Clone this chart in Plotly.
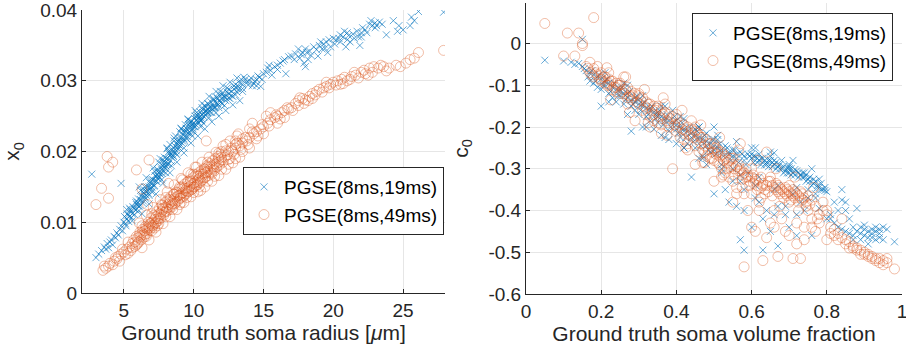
import plotly.graph_objects as go

# ---- Left panel: x0 vs ground-truth soma radius (um) ----
radius_x0_19ms = [
    (3.0,0.0050),(3.2,0.0055),(3.4,0.0060),(3.6,0.0065),(3.7,0.0062),(3.8,0.0070),(3.9,0.0064),(4.0,0.0072),
    (4.1,0.0075),(4.2,0.0068),(4.3,0.0080),(4.4,0.0078),(4.5,0.0085),(4.6,0.0082),(4.7,0.0090),(4.8,0.0095),
    (4.9,0.0088),(5.0,0.0100),(5.1,0.0098),(5.2,0.0105),(5.3,0.0110),(5.4,0.0108),(5.5,0.0115),(5.6,0.0112),
    (5.7,0.0120),(5.8,0.0118),(5.9,0.0125),(6.0,0.0128),(6.1,0.0122),(6.2,0.0132),(6.3,0.0135),(6.4,0.0130),
    (6.5,0.0140),(6.6,0.0138),(6.7,0.0145),(6.8,0.0150),(6.9,0.0147),(7.0,0.0155),(7.1,0.0160),(7.2,0.0152),
    (7.3,0.0165),(7.4,0.0162),(7.5,0.0170),(7.6,0.0168),(7.7,0.0175),(7.8,0.0180),(7.9,0.0178),(8.0,0.0185),
    (8.1,0.0190),(8.2,0.0183),(8.3,0.0195),(8.4,0.0192),(8.5,0.0200),(8.6,0.0205),(8.7,0.0198),(8.8,0.0210),
    (8.9,0.0215),(9.0,0.0208),(9.1,0.0220),(9.2,0.0225),(9.3,0.0218),(9.4,0.0228),(9.5,0.0232),(9.6,0.0226),
    (9.7,0.0235),(9.8,0.0230),(9.9,0.0238),(10.0,0.0240),(10.1,0.0235),(10.2,0.0245),(10.3,0.0242),(10.4,0.0248),
    (10.5,0.0250),(10.6,0.0246),(10.7,0.0255),(10.8,0.0252),(10.9,0.0258),(11.0,0.0260),(11.2,0.0262),(11.4,0.0265),
    (11.5,0.0270),(11.7,0.0268),(11.8,0.0272),(12.0,0.0275),(12.2,0.0278),(12.3,0.0272),(12.5,0.0282),(12.7,0.0285),
    (12.9,0.0288),(13.0,0.0290),(13.2,0.0292),(13.5,0.0295),(13.8,0.0298),(14.0,0.0300),(14.3,0.0296),(14.5,0.0293),
    (14.7,0.0305),(15.0,0.0310),(15.3,0.0318),(15.6,0.0308),(15.8,0.0320),(16.2,0.0325),(16.5,0.0330),(16.6,0.0310),
    (17.0,0.0335),(17.3,0.0338),(17.6,0.0332),(17.8,0.0340),(17.9,0.0325),(18.0,0.0345),(18.3,0.0342),(18.6,0.0348),
    (18.9,0.0335),(19.0,0.0350),(19.3,0.0352),(19.5,0.0355),(19.8,0.0348),(20.0,0.0360),(20.2,0.0358),(20.5,0.0365),
    (20.7,0.0362),(21.0,0.0368),(21.2,0.0355),(21.5,0.0360),(21.7,0.0370),(22.0,0.0368),(22.3,0.0372),(22.6,0.0380),
    (22.8,0.0378),(23.0,0.0375),(23.5,0.0380),(23.8,0.0365),(24.3,0.0385),(24.6,0.0370),(25.0,0.0372),(25.5,0.0378),
    (25.8,0.0385),(26.1,0.0398),(27.9,0.0397),
    (6.2,0.0145),(6.8,0.0138),(7.2,0.0172),(7.7,0.0160),(8.1,0.0205),(8.4,0.0180),(8.8,0.0195),(9.0,0.0228),
    (9.3,0.0205),(9.6,0.0245),(9.9,0.0222),(10.2,0.0255),(10.5,0.0235),(10.8,0.0265),(11.1,0.0248),(11.4,0.0275),
    (11.6,0.0255),(11.9,0.0285),(12.2,0.0265),(12.6,0.0275),(13.0,0.0280),(13.4,0.0302),(14.2,0.0293),(14.8,0.0292),
    (2.7,0.0168),(4.8,0.0155),(7.8,0.0188),(5.2,0.0118),(5.6,0.0102),(6.0,0.0115),(6.5,0.0150),(7.0,0.0143),
    (7.5,0.0185),(8.0,0.0170),(8.6,0.0215),(9.4,0.0238),(10.0,0.0228),(10.6,0.0262),(11.3,0.0255),(12.0,0.0268),
    (12.4,0.0290),(13.6,0.0305),(14.5,0.0302),(15.5,0.0315),(16.0,0.0322),(17.5,0.0345),(18.2,0.0330),(19.2,0.0345),
    (20.5,0.0355),(21.0,0.0358),(22.0,0.0362),(23.0,0.0382),(24.7,0.0378),(25.6,0.0390),
    (8.3,0.0210),(8.7,0.0222),(9.1,0.0232),(9.5,0.0218),(9.8,0.0242),(10.3,0.0250),(10.7,0.0240),(11.0,0.0268),
    (11.8,0.0262),(12.8,0.0278),(7.4,0.0175),(7.9,0.0192),(6.9,0.0160),(6.4,0.0142),(5.9,0.0130),(5.4,0.0120),
]
radius_x0_19ms_dense = [
    (5.05,0.0108),(5.15,0.0095),(5.25,0.0112),(5.35,0.0101),(5.45,0.0118),(5.55,0.0107),(5.65,0.0122),(5.75,0.0111),
    (5.85,0.0128),(5.95,0.0119),(6.05,0.0133),(6.15,0.0124),(6.25,0.0138),(6.35,0.0127),(6.45,0.0146),(6.55,0.0134),
    (6.65,0.0150),(6.75,0.0141),(6.85,0.0156),(6.95,0.0149),(7.05,0.0160),(7.15,0.0151),(7.25,0.0166),(7.35,0.0158),
    (7.45,0.0173),(7.55,0.0163),(7.65,0.0178),(7.75,0.0169),(7.85,0.0185),(7.95,0.0176),(8.05,0.0190),(8.15,0.0181),
    (8.25,0.0197),(8.35,0.0187),(8.45,0.0203),(8.55,0.0193),(8.65,0.0208),(8.75,0.0201),(8.85,0.0214),(8.95,0.0205),
    (9.05,0.0219),(9.15,0.0212),(9.25,0.0229),(9.35,0.0215),(9.45,0.0233),(9.55,0.0221),(9.65,0.0238),(9.75,0.0226),
    (9.85,0.0243),(9.95,0.0232),(10.05,0.0247),(10.15,0.0238),(10.25,0.0251),(10.35,0.0240),(10.45,0.0256),(10.55,0.0244),
    (10.65,0.0259),(10.75,0.0249),(10.85,0.0263),(10.95,0.0254),(11.05,0.0267),(11.15,0.0256),(11.25,0.0270),(11.35,0.0260),
    (11.45,0.0273),(11.55,0.0263),(11.65,0.0277),(11.75,0.0266),(11.85,0.0280),(11.95,0.0270),(12.1,0.0283),(12.3,0.0276),
    (12.5,0.0288),(12.7,0.0279),(12.9,0.0293),(13.1,0.0284),(13.3,0.0297),(13.5,0.0289),(13.7,0.0302),(13.9,0.0294),
    (14.1,0.0304),(14.4,0.0299),(14.6,0.0307),(14.9,0.0302),(15.2,0.0312),(15.4,0.0322),(16.0,0.0316),(16.4,0.0328),
    (16.8,0.0334),(17.2,0.0330),(17.7,0.0337),(18.1,0.0340),(18.4,0.0336),(18.8,0.0344),(19.1,0.0355),(19.4,0.0346),
    (19.7,0.0358),(20.1,0.0352),(20.4,0.0360),(20.8,0.0370),(21.1,0.0364),(21.4,0.0366),(21.8,0.0362),(22.1,0.0375),
    (22.4,0.0368),(22.7,0.0385),(23.1,0.0378),(23.3,0.0383),(20.9,0.0348),(21.9,0.0350),(18.0,0.0320),(19.6,0.0340),
    (6.0,0.0124),(6.5,0.0136),(7.0,0.0150),(7.5,0.0165),(8.0,0.0180),(8.5,0.0195),(9.0,0.0215),(9.5,0.0228),
    (10.0,0.0236),(10.5,0.0244),(11.0,0.0255),(11.5,0.0262),(12.0,0.0280),(12.5,0.0276),(13.0,0.0295),(13.5,0.0285),
    (8.2,0.0200),(8.8,0.0205),(9.2,0.0215),(9.7,0.0240),(10.1,0.0250),(10.6,0.0252),(11.1,0.0262),(11.7,0.0275),
    (12.4,0.0284),(13.2,0.0288),(7.3,0.0158),(7.8,0.0172),(6.6,0.0144),
]
radius_x0_19ms_edges = [
    (6.1,0.0150),(6.6,0.0163),(7.1,0.0177),(7.6,0.0190),(8.1,0.0204),(8.6,0.0219),(9.1,0.0233),(9.6,0.0246),
    (10.1,0.0258),(10.6,0.0268),(11.1,0.0278),(11.6,0.0285),(12.1,0.0293),(12.6,0.0298),(13.1,0.0304),
    (6.3,0.0112),(6.8,0.0126),(7.3,0.0140),(7.8,0.0155),(8.3,0.0170),(8.8,0.0185),(9.3,0.0198),(9.8,0.0212),
    (10.3,0.0222),(10.8,0.0232),(11.3,0.0242),(11.8,0.0250),(12.3,0.0258),(12.8,0.0266),(13.3,0.0272),
    (8.4,0.0196),(9.4,0.0222),(10.4,0.0245),(11.4,0.0263),(9.9,0.0236),(8.9,0.0210),(10.9,0.0257),(12.2,0.0277),
    (7.9,0.0181),(7.4,0.0167),
]

radius_x0_49ms = [
    (3.5,0.0032),(3.7,0.0035),(3.9,0.0038),(4.0,0.0042),(4.2,0.0040),(4.3,0.0045),(4.5,0.0048),(4.6,0.0052),
    (4.8,0.0055),(5.0,0.0058),(5.1,0.0054),(5.2,0.0062),(5.4,0.0065),(5.5,0.0060),(5.6,0.0070),(5.8,0.0072),
    (5.9,0.0068),(6.0,0.0078),(6.1,0.0082),(6.2,0.0080),(6.3,0.0085),(6.4,0.0083),(6.5,0.0088),(6.6,0.0092),
    (6.7,0.0090),(6.8,0.0095),(6.9,0.0098),(7.0,0.0100),(7.1,0.0096),(7.2,0.0104),(7.3,0.0108),(7.4,0.0105),
    (7.5,0.0112),(7.6,0.0110),(7.7,0.0115),(7.8,0.0118),(7.9,0.0114),(8.0,0.0122),(8.1,0.0120),(8.2,0.0125),
    (8.3,0.0128),(8.4,0.0124),(8.5,0.0130),(8.6,0.0133),(8.7,0.0128),(8.8,0.0136),(8.9,0.0138),(9.0,0.0134),
    (9.1,0.0140),(9.2,0.0142),(9.3,0.0138),(9.4,0.0145),(9.5,0.0148),(9.6,0.0143),(9.7,0.0150),(9.8,0.0152),
    (9.9,0.0147),(10.0,0.0155),(10.1,0.0157),(10.2,0.0152),(10.3,0.0160),(10.4,0.0162),(10.5,0.0158),(10.6,0.0165),
    (10.7,0.0168),(10.8,0.0163),(10.9,0.0170),(11.0,0.0172),(11.2,0.0175),(11.4,0.0178),(11.5,0.0173),(11.6,0.0182),
    (11.8,0.0185),(12.0,0.0188),(12.2,0.0192),(12.4,0.0195),(12.6,0.0190),(12.8,0.0200),(13.0,0.0205),(13.3,0.0208),
    (13.5,0.0212),(13.8,0.0215),(14.0,0.0220),(14.3,0.0225),(14.5,0.0228),(14.8,0.0232),(15.0,0.0235),(15.3,0.0240),
    (15.5,0.0245),(15.8,0.0248),(16.0,0.0250),(16.3,0.0255),(16.5,0.0258),(16.8,0.0260),(17.0,0.0262),(17.3,0.0268),
    (17.5,0.0272),(17.8,0.0275),(18.0,0.0273),(18.3,0.0278),(18.5,0.0282),(18.8,0.0285),(19.0,0.0288),(19.3,0.0290),
    (19.5,0.0292),(19.8,0.0295),(20.0,0.0298),(20.3,0.0300),(20.6,0.0302),(20.8,0.0305),(21.0,0.0300),(21.3,0.0306),
    (21.6,0.0308),(22.0,0.0312),(22.3,0.0310),(22.6,0.0318),(22.9,0.0320),(23.2,0.0318),(23.6,0.0320),(23.8,0.0314),
    (24.5,0.0322),(24.8,0.0320),(25.2,0.0325),(25.5,0.0330),(25.8,0.0332),(26.1,0.0340),(27.9,0.0343),
    (3.0,0.0125),(3.4,0.0148),(3.8,0.0193),(3.9,0.0178),(4.2,0.0185),(3.9,0.0134),(5.9,0.0174),(6.7,0.0125),
    (10.9,0.0215),(6.8,0.0188),(6.3,0.0147),
    (7.0,0.0112),(7.5,0.0098),(8.0,0.0135),(8.5,0.0118),(9.0,0.0150),(9.5,0.0135),(10.0,0.0168),(10.5,0.0145),
    (11.0,0.0185),(11.5,0.0165),(12.0,0.0200),(12.5,0.0182),(13.0,0.0215),(13.5,0.0200),(14.0,0.0232),(14.5,0.0218),
    (15.5,0.0255),(16.5,0.0248),(17.5,0.0265),(18.5,0.0275),(19.5,0.0298),(20.5,0.0295),(21.5,0.0312),(22.5,0.0308),
    (8.2,0.0155),(9.2,0.0160),(10.2,0.0178),(9.8,0.0168),(11.8,0.0198),(6.3,0.0095),(5.3,0.0072),(4.7,0.0045),
    (12.3,0.0210),(13.2,0.0225),(14.2,0.0240),(15.2,0.0250),
    (8.6,0.0140),(9.1,0.0128),(9.6,0.0158),(10.4,0.0150),(10.8,0.0175),(11.3,0.0168),(7.7,0.0125),(7.2,0.0092),
]
radius_x0_49ms_dense = [
    (5.6,0.0064),(5.7,0.0075),(5.8,0.0066),(5.9,0.0080),(6.05,0.0072),(6.15,0.0086),(6.25,0.0075),(6.35,0.0090),
    (6.45,0.0079),(6.55,0.0094),(6.65,0.0084),(6.75,0.0100),(6.85,0.0089),(6.95,0.0106),(7.05,0.0093),(7.15,0.0110),
    (7.25,0.0098),(7.35,0.0115),(7.45,0.0102),(7.55,0.0120),(7.65,0.0106),(7.75,0.0124),(7.85,0.0110),(7.95,0.0128),
    (8.05,0.0115),(8.15,0.0132),(8.25,0.0118),(8.35,0.0136),(8.45,0.0122),(8.55,0.0140),(8.65,0.0126),(8.75,0.0143),
    (8.85,0.0130),(8.95,0.0147),(9.05,0.0134),(9.15,0.0150),(9.25,0.0136),(9.35,0.0154),(9.45,0.0140),(9.55,0.0157),
    (9.65,0.0144),(9.75,0.0160),(9.85,0.0146),(9.95,0.0163),(10.05,0.0150),(10.15,0.0167),(10.25,0.0153),(10.35,0.0170),
    (10.45,0.0156),(10.55,0.0173),(10.65,0.0160),(10.75,0.0176),(10.85,0.0164),(10.95,0.0180),(11.05,0.0166),(11.15,0.0183),
    (11.25,0.0170),(11.35,0.0187),(11.45,0.0175),(11.55,0.0190),(11.65,0.0178),(11.75,0.0193),(11.85,0.0181),(11.95,0.0196),
    (12.1,0.0185),(12.3,0.0201),(12.5,0.0189),(12.7,0.0205),(12.9,0.0196),(13.1,0.0212),(13.4,0.0203),(13.7,0.0220),
    (13.9,0.0210),(14.2,0.0228),(14.6,0.0222),(14.9,0.0238),(15.4,0.0236),(15.9,0.0252),(16.2,0.0246),(16.7,0.0262),
    (17.1,0.0258),(17.6,0.0276),(17.9,0.0268),(18.2,0.0272),(18.7,0.0280),(19.2,0.0284),(19.7,0.0290),(20.2,0.0294),
    (20.7,0.0296),(21.2,0.0302),(21.8,0.0304),(22.2,0.0315),(22.8,0.0312),(23.4,0.0322),(24.0,0.0318),(13.0,0.0190),
    (12.0,0.0175),(11.0,0.0158),(10.0,0.0142),(9.0,0.0125),(8.0,0.0108),(7.0,0.0088),(14.0,0.0205),(15.0,0.0225),
    (16.0,0.0240),(4.9,0.0062),(5.3,0.0056),(4.4,0.0050),(3.6,0.0038),(6.6,0.0080),(7.4,0.0095),
    (6.0,0.0070),(6.5,0.0082),(7.0,0.0095),(7.5,0.0105),(8.0,0.0116),(8.5,0.0126),(9.0,0.0138),(9.5,0.0144),
    (10.0,0.0150),(10.5,0.0168),(11.0,0.0178),(11.5,0.0183),(12.0,0.0192),(12.5,0.0200),(13.0,0.0210),(13.5,0.0218),
    (8.3,0.0132),(8.8,0.0142),(9.3,0.0148),(9.8,0.0158),(10.3,0.0165),(10.8,0.0170),(11.3,0.0180),(11.8,0.0190),
    (7.3,0.0100),(7.8,0.0120),(6.8,0.0092),
]
radius_x0_49ms_edges = [
    (6.1,0.0099),(6.6,0.0110),(7.1,0.0121),(7.6,0.0132),(8.1,0.0143),(8.6,0.0153),(9.1,0.0162),(9.6,0.0170),
    (10.1,0.0178),(10.6,0.0185),(11.1,0.0192),(11.6,0.0199),(12.1,0.0208),(12.6,0.0215),(13.1,0.0222),
    (6.3,0.0064),(6.8,0.0075),(7.3,0.0086),(7.8,0.0098),(8.3,0.0108),(8.8,0.0118),(9.3,0.0128),(9.8,0.0136),
    (10.3,0.0143),(10.8,0.0150),(11.3,0.0158),(11.8,0.0166),(12.3,0.0175),(12.8,0.0184),(13.3,0.0192),
]

# ---- Right panel: c0 vs ground-truth soma volume fraction ----
fraction_c0_19ms = [
    (0.05,-0.040),(0.10,-0.042),(0.12,-0.045),(0.13,-0.050),(0.14,-0.048),(0.15,0.010),(0.15,-0.055),(0.16,-0.065),
    (0.17,-0.070),(0.17,-0.090),(0.18,-0.075),(0.18,-0.095),(0.19,-0.080),(0.19,-0.105),(0.20,-0.085),(0.20,-0.110),
    (0.20,-0.150),(0.21,-0.090),(0.21,-0.100),(0.22,-0.095),(0.22,-0.120),(0.23,-0.105),(0.23,-0.130),(0.24,-0.110),
    (0.24,-0.140),(0.25,-0.115),(0.25,-0.125),(0.26,-0.120),(0.26,-0.145),(0.27,-0.130),(0.27,-0.100),(0.28,-0.135),
    (0.28,-0.210),(0.28,-0.150),(0.29,-0.140),(0.29,-0.160),(0.30,-0.145),(0.30,-0.170),(0.31,-0.150),(0.31,-0.200),
    (0.32,-0.155),(0.32,-0.175),(0.33,-0.160),(0.33,-0.185),(0.34,-0.165),(0.34,-0.205),(0.35,-0.170),(0.35,-0.190),
    (0.36,-0.175),(0.36,-0.220),(0.37,-0.180),(0.37,-0.150),(0.38,-0.185),(0.38,-0.210),(0.39,-0.190),(0.39,-0.160),
    (0.40,-0.195),(0.40,-0.240),(0.41,-0.200),(0.41,-0.225),(0.42,-0.205),(0.42,-0.180),(0.43,-0.210),(0.43,-0.240),
    (0.44,-0.215),(0.44,-0.320),(0.45,-0.220),(0.45,-0.250),(0.46,-0.225),(0.46,-0.200),(0.47,-0.230),(0.47,-0.270),
    (0.48,-0.235),(0.48,-0.215),(0.49,-0.240),(0.49,-0.260),(0.50,-0.200),(0.50,-0.245),(0.50,-0.360),(0.51,-0.250),
    (0.51,-0.230),(0.52,-0.255),(0.52,-0.290),(0.53,-0.245),(0.53,-0.350),(0.54,-0.260),(0.54,-0.380),(0.55,-0.255),
    (0.55,-0.300),(0.56,-0.265),(0.56,-0.390),(0.57,-0.260),(0.57,-0.470),(0.57,-0.330),(0.58,-0.270),(0.58,-0.495),
    (0.58,-0.400),(0.59,-0.265),(0.59,-0.310),(0.60,-0.275),(0.60,-0.250),(0.60,-0.440),(0.61,-0.270),(0.61,-0.340),
    (0.62,-0.280),(0.62,-0.380),(0.63,-0.275),(0.63,-0.495),(0.63,-0.420),(0.64,-0.285),(0.64,-0.290),(0.65,-0.280),
    (0.65,-0.260),(0.65,-0.450),(0.66,-0.290),(0.66,-0.350),(0.67,-0.295),(0.67,-0.485),(0.67,-0.390),(0.68,-0.300),
    (0.68,-0.280),(0.69,-0.305),(0.69,-0.410),(0.70,-0.300),(0.70,-0.310),(0.70,-0.440),(0.71,-0.310),(0.71,-0.360),
    (0.72,-0.305),(0.72,-0.460),(0.73,-0.315),(0.73,-0.380),(0.74,-0.320),(0.74,-0.400),(0.75,-0.325),(0.75,-0.350),
    (0.76,-0.340),(0.76,-0.460),(0.77,-0.330),(0.77,-0.370),(0.78,-0.345),(0.78,-0.325),(0.79,-0.350),(0.80,-0.355),
    (0.80,-0.420),(0.81,-0.410),(0.82,-0.430),(0.82,-0.380),(0.83,-0.440),(0.83,-0.400),(0.84,-0.445),(0.84,-0.350),
    (0.85,-0.450),(0.85,-0.380),(0.86,-0.455),(0.86,-0.420),(0.87,-0.460),(0.87,-0.470),(0.88,-0.395),(0.88,-0.450),
    (0.89,-0.440),(0.89,-0.470),(0.90,-0.435),(0.90,-0.460),(0.91,-0.450),(0.91,-0.480),(0.92,-0.445),(0.92,-0.465),
    (0.93,-0.440),(0.93,-0.470),(0.94,-0.445),(0.94,-0.455),(0.95,-0.440),(0.95,-0.470),(0.96,-0.445),(0.98,-0.475),
]
fraction_c0_19ms_dense = [
    (0.155,-0.060),(0.165,-0.080),(0.175,-0.065),(0.185,-0.090),(0.195,-0.075),(0.205,-0.100),(0.215,-0.085),(0.225,-0.115),
    (0.235,-0.095),(0.245,-0.125),(0.255,-0.105),(0.265,-0.135),(0.275,-0.115),(0.285,-0.145),(0.295,-0.125),(0.305,-0.160),
    (0.315,-0.140),(0.325,-0.170),(0.335,-0.150),(0.345,-0.180),(0.355,-0.160),(0.365,-0.195),(0.375,-0.170),(0.385,-0.200),
    (0.395,-0.175),(0.405,-0.215),(0.415,-0.190),(0.425,-0.225),(0.435,-0.200),(0.445,-0.235),(0.455,-0.210),(0.465,-0.245),
    (0.475,-0.220),(0.485,-0.255),(0.495,-0.230),(0.505,-0.265),(0.515,-0.240),(0.525,-0.270),(0.535,-0.250),(0.545,-0.280),
    (0.555,-0.255),(0.565,-0.285),(0.575,-0.265),(0.585,-0.290),(0.595,-0.270),(0.605,-0.285),(0.615,-0.275),(0.625,-0.290),
    (0.635,-0.280),(0.645,-0.295),(0.655,-0.285),(0.665,-0.300),(0.675,-0.290),(0.685,-0.310),(0.695,-0.298),(0.705,-0.315),
    (0.715,-0.302),(0.725,-0.320),(0.735,-0.310),(0.745,-0.330),(0.755,-0.320),(0.765,-0.335),(0.775,-0.345),(0.785,-0.350),
    (0.795,-0.352),(0.30,-0.135),(0.35,-0.165),(0.40,-0.185),(0.45,-0.205),(0.50,-0.230),(0.55,-0.270),(0.60,-0.265),
    (0.65,-0.270),(0.70,-0.290),(0.38,-0.230),(0.42,-0.250),(0.46,-0.275),(0.48,-0.290),(0.52,-0.310),(0.55,-0.330),
    (0.58,-0.350),(0.61,-0.370),(0.64,-0.400),(0.66,-0.410),(0.69,-0.390),(0.72,-0.410),(0.75,-0.370),(0.78,-0.395),
    (0.81,-0.420),(0.87,-0.440),(0.90,-0.445),(0.92,-0.455),(0.94,-0.465),(0.89,-0.455),(0.91,-0.465),(0.93,-0.450),
    (0.85,-0.400),(0.84,-0.375),
    (0.605,-0.270),(0.615,-0.285),(0.625,-0.275),(0.635,-0.290),(0.645,-0.280),(0.655,-0.295),(0.665,-0.285),(0.675,-0.300),
    (0.685,-0.295),(0.695,-0.310),(0.705,-0.300),(0.715,-0.315),(0.725,-0.310),(0.735,-0.320),(0.745,-0.315),(0.755,-0.330),
    (0.765,-0.325),(0.775,-0.340),(0.785,-0.335),(0.795,-0.345),(0.62,-0.265),(0.66,-0.280),(0.70,-0.295),(0.74,-0.310),
    (0.40,-0.205),(0.42,-0.210),(0.44,-0.225),(0.46,-0.230),(0.48,-0.245),(0.50,-0.255),(0.52,-0.260),(0.54,-0.265),
    (0.56,-0.275),(0.58,-0.280),(0.25,-0.110),(0.27,-0.120),(0.29,-0.130),(0.31,-0.145),(0.33,-0.155),(0.35,-0.175),
    (0.37,-0.185),
]
fraction_c0_19ms_edges = [
    (0.21,-0.070),(0.26,-0.095),(0.31,-0.125),(0.36,-0.150),(0.41,-0.175),(0.46,-0.200),(0.51,-0.220),(0.56,-0.235),
    (0.61,-0.250),(0.66,-0.262),(0.71,-0.280),(0.76,-0.300),
    (0.22,-0.140),(0.27,-0.170),(0.32,-0.200),(0.37,-0.225),(0.42,-0.250),(0.47,-0.275),(0.52,-0.300),(0.57,-0.315),
    (0.62,-0.320),(0.67,-0.340),(0.72,-0.345),(0.77,-0.360),
]

fraction_c0_49ms = [
    (0.05,0.048),(0.10,-0.030),(0.11,0.025),(0.13,-0.030),(0.14,0.025),(0.15,-0.005),(0.15,0.000),(0.18,0.062),
    (0.16,-0.055),(0.17,-0.045),(0.17,-0.070),(0.18,-0.060),(0.18,-0.080),(0.19,-0.055),(0.19,-0.075),(0.20,-0.070),
    (0.20,-0.090),(0.21,-0.080),(0.21,-0.095),(0.22,-0.085),(0.22,-0.100),(0.23,-0.090),(0.23,-0.110),(0.24,-0.095),
    (0.24,-0.115),(0.25,-0.100),(0.25,-0.120),(0.26,-0.080),(0.26,-0.110),(0.27,-0.105),(0.27,-0.130),(0.28,-0.115),
    (0.28,-0.135),(0.29,-0.120),(0.29,-0.185),(0.30,-0.125),(0.30,-0.145),(0.31,-0.130),(0.31,-0.160),(0.32,-0.140),
    (0.32,-0.170),(0.33,-0.145),(0.33,-0.175),(0.34,-0.150),(0.34,-0.185),(0.35,-0.155),(0.35,-0.190),(0.36,-0.160),
    (0.36,-0.195),(0.37,-0.165),(0.37,-0.145),(0.38,-0.170),(0.38,-0.200),(0.39,-0.175),(0.39,-0.300),(0.40,-0.180),
    (0.40,-0.210),(0.41,-0.190),(0.41,-0.225),(0.42,-0.195),(0.42,-0.230),(0.43,-0.200),(0.43,-0.240),(0.44,-0.205),
    (0.44,-0.185),(0.45,-0.210),(0.45,-0.245),(0.46,-0.220),(0.46,-0.260),(0.47,-0.225),(0.47,-0.255),(0.48,-0.230),
    (0.48,-0.270),(0.49,-0.240),(0.49,-0.275),(0.50,-0.250),(0.50,-0.280),(0.51,-0.255),(0.51,-0.285),(0.52,-0.260),
    (0.52,-0.300),(0.53,-0.270),(0.53,-0.310),(0.54,-0.280),(0.54,-0.320),(0.55,-0.290),(0.55,-0.330),(0.56,-0.295),
    (0.56,-0.345),(0.57,-0.240),(0.57,-0.300),(0.58,-0.310),(0.58,-0.535),(0.58,-0.360),(0.59,-0.315),(0.59,-0.400),
    (0.60,-0.320),(0.60,-0.360),(0.61,-0.330),(0.61,-0.450),(0.62,-0.325),(0.62,-0.380),(0.63,-0.335),(0.63,-0.520),
    (0.64,-0.340),(0.64,-0.260),(0.65,-0.330),(0.65,-0.430),(0.66,-0.345),(0.66,-0.400),(0.67,-0.340),(0.67,-0.510),
    (0.68,-0.350),(0.68,-0.420),(0.69,-0.345),(0.69,-0.450),(0.70,-0.355),(0.70,-0.380),(0.71,-0.350),(0.71,-0.515),
    (0.72,-0.360),(0.72,-0.430),(0.73,-0.355),(0.73,-0.515),(0.74,-0.370),(0.74,-0.440),(0.75,-0.365),(0.75,-0.400),
    (0.76,-0.375),(0.76,-0.420),(0.77,-0.390),(0.78,-0.430),(0.79,-0.400),(0.79,-0.380),(0.80,-0.470),(0.80,-0.410),
    (0.81,-0.440),(0.82,-0.445),(0.82,-0.460),(0.83,-0.455),(0.84,-0.465),(0.84,-0.420),(0.85,-0.470),(0.86,-0.475),
    (0.86,-0.490),(0.87,-0.485),(0.88,-0.490),(0.89,-0.495),(0.89,-0.505),(0.90,-0.500),(0.91,-0.505),(0.91,-0.510),
    (0.92,-0.510),(0.93,-0.515),(0.93,-0.520),(0.94,-0.515),(0.95,-0.520),(0.95,-0.530),(0.96,-0.525),(0.98,-0.540),
]
fraction_c0_49ms_dense = [
    (0.165,-0.060),(0.175,-0.075),(0.185,-0.070),(0.195,-0.085),(0.205,-0.080),(0.215,-0.100),(0.225,-0.090),(0.235,-0.105),
    (0.245,-0.100),(0.255,-0.115),(0.265,-0.110),(0.275,-0.125),(0.285,-0.125),(0.295,-0.140),(0.305,-0.135),(0.315,-0.150),
    (0.325,-0.145),(0.335,-0.160),(0.345,-0.160),(0.355,-0.175),(0.365,-0.170),(0.375,-0.185),(0.385,-0.180),(0.395,-0.195),
    (0.405,-0.195),(0.415,-0.205),(0.425,-0.210),(0.435,-0.220),(0.445,-0.225),(0.455,-0.230),(0.465,-0.240),(0.475,-0.245),
    (0.485,-0.255),(0.495,-0.260),(0.505,-0.265),(0.515,-0.270),(0.525,-0.280),(0.535,-0.285),(0.545,-0.295),(0.555,-0.300),
    (0.565,-0.305),(0.575,-0.315),(0.585,-0.320),(0.595,-0.330),(0.605,-0.335),(0.615,-0.340),(0.625,-0.345),(0.635,-0.350),
    (0.645,-0.355),(0.655,-0.340),(0.665,-0.350),(0.675,-0.360),(0.685,-0.355),(0.695,-0.365),(0.705,-0.360),(0.715,-0.370),
    (0.725,-0.365),(0.735,-0.375),(0.745,-0.380),(0.755,-0.385),(0.30,-0.120),(0.35,-0.150),(0.40,-0.170),(0.45,-0.200),
    (0.50,-0.240),(0.55,-0.275),(0.60,-0.300),(0.65,-0.320),(0.70,-0.340),(0.33,-0.200),(0.36,-0.215),(0.43,-0.255),
    (0.47,-0.285),(0.52,-0.320),(0.56,-0.360),(0.62,-0.400),(0.66,-0.440),(0.70,-0.460),(0.74,-0.470),(0.77,-0.450),
    (0.80,-0.400),(0.78,-0.410),(0.83,-0.470),(0.85,-0.480),(0.87,-0.490),(0.90,-0.505),(0.92,-0.515),(0.94,-0.525),
    (0.96,-0.515),(0.88,-0.495),(0.81,-0.455),(0.76,-0.440),(0.72,-0.480),(0.64,-0.465),(0.60,-0.440),(0.55,-0.380),
    (0.50,-0.330),(0.45,-0.290),(0.25,-0.095),(0.27,-0.145),(0.22,-0.070),
    (0.455,-0.215),(0.465,-0.225),(0.475,-0.260),(0.485,-0.240),(0.495,-0.275),(0.505,-0.250),(0.515,-0.290),(0.525,-0.265),
    (0.535,-0.300),(0.545,-0.275),(0.555,-0.315),(0.565,-0.290),(0.575,-0.325),(0.585,-0.300),(0.595,-0.340),(0.605,-0.315),
    (0.615,-0.350),(0.625,-0.320),(0.635,-0.360),(0.645,-0.330),(0.655,-0.365),(0.665,-0.335),(0.675,-0.345),(0.685,-0.370),
    (0.695,-0.350),(0.705,-0.375),(0.715,-0.355),(0.725,-0.380),(0.735,-0.360),(0.745,-0.390),(0.51,-0.260),(0.53,-0.275),
    (0.57,-0.305),(0.59,-0.320),(0.61,-0.325),(0.63,-0.340),(0.67,-0.355),(0.69,-0.360),(0.71,-0.365),(0.73,-0.370),
    (0.40,-0.200),(0.42,-0.215),(0.44,-0.215),(0.38,-0.190),(0.36,-0.180),(0.34,-0.170),(0.32,-0.155),(0.28,-0.130),
    (0.26,-0.120),(0.24,-0.105),(0.22,-0.095),(0.20,-0.085),
]
fraction_c0_49ms_edges = [
    (0.215,-0.058),(0.265,-0.080),(0.315,-0.110),(0.365,-0.130),(0.415,-0.160),(0.465,-0.195),(0.515,-0.225),(0.565,-0.255),
    (0.615,-0.280),(0.665,-0.300),(0.715,-0.320),(0.765,-0.345),
    (0.225,-0.135),(0.275,-0.165),(0.325,-0.190),(0.375,-0.220),(0.425,-0.250),(0.475,-0.285),(0.525,-0.315),(0.575,-0.345),
    (0.625,-0.370),(0.675,-0.390),(0.725,-0.400),(0.775,-0.420),
]

series_names = ["PGSE(8ms,19ms)", "PGSE(8ms,49ms)"]
left_xticks = [5, 10, 15, 20, 25]
left_yticks = [0, 0.01, 0.02, 0.03, 0.04]
left_yticklabels = ["0", "0.01", "0.02", "0.03", "0.04"]
right_xticks = [0, 0.2, 0.4, 0.6, 0.8, 1]
right_xticklabels = ["0", "0.2", "0.4", "0.6", "0.8", "1"]
right_yticks = [-0.6, -0.5, -0.4, -0.3, -0.2, -0.1, 0]
right_yticklabels = ["-0.6", "-0.5", "-0.4", "-0.3", "-0.2", "-0.1", "0"]

BLUE = "rgba(0,114,189,0.6)"
ORANGE = "rgba(217,83,25,0.38)"
AX = "#262626"
FONT = "Liberation Sans, Arial, sans-serif"
W, H = 906, 358

def unzip(pairs):
    return [p[0] for p in pairs], [p[1] for p in pairs]

fig = go.Figure()

for pairs, name, sym, col, size, xa, ya, lg in [
    (radius_x0_19ms + radius_x0_19ms_dense + radius_x0_19ms_edges,
     series_names[0], "x-thin-open", BLUE, 7, "x", "y", "legend"),
    (radius_x0_49ms + radius_x0_49ms_dense + radius_x0_49ms_edges,
     series_names[1], "circle-open", ORANGE, 10, "x", "y", "legend"),
    (fraction_c0_19ms + fraction_c0_19ms_dense + fraction_c0_19ms_edges,
     series_names[0], "x-thin-open", BLUE, 7, "x2", "y2", "legend2"),
    (fraction_c0_49ms + fraction_c0_49ms_dense + fraction_c0_49ms_edges,
     series_names[1], "circle-open", ORANGE, 10, "x2", "y2", "legend2"),
]:
    xs, ys = unzip(pairs)
    fig.add_trace(go.Scatter(
        x=xs, y=ys, mode="markers", name=name, xaxis=xa, yaxis=ya, legend=lg,
        marker=dict(symbol=sym, size=size, color=col, line=dict(width=1, color=col)),
    ))

axis_common = dict(
    showline=True, linecolor=AX, linewidth=1, mirror=False,
    showgrid=True, gridcolor="#e6e6e6", gridwidth=1,
    ticks="inside", ticklen=4, tickcolor=AX, tickwidth=1, automargin=False,
    ticklabeloverflow="allow",
    tickfont=dict(family=FONT, size=19, color=AX), zeroline=False,
)

fig.update_layout(
    width=W, height=H,
    margin=dict(l=0, r=0, t=0, b=0),
    paper_bgcolor="white", plot_bgcolor="white",
    font=dict(family=FONT, color=AX),
    xaxis=dict(domain=[82/W, 445/W], range=[2, 28], tickvals=left_xticks,
               title=dict(text="Ground truth soma radius [<i>μ</i>m]", font=dict(size=21, color=AX), standoff=4),
               anchor="y", **axis_common),
    yaxis=dict(domain=[1-293/H, 1-10/H], range=[0, 0.04001], tickvals=left_yticks, ticktext=left_yticklabels,
               title=dict(text="x<sub>0</sub>", font=dict(size=21, color=AX), standoff=14),
               anchor="x", **axis_common),
    xaxis2=dict(domain=[526/W, 902/W], range=[0, 1], tickvals=right_xticks, ticktext=right_xticklabels,
                title=dict(text="Ground truth soma volume fraction", font=dict(size=21, color=AX), standoff=4),
                anchor="y2", **axis_common),
    yaxis2=dict(domain=[1-294/H, 1-3/H], range=[-0.6, 0.097], tickvals=right_yticks, ticktext=right_yticklabels,
                title=dict(text="c<sub>0</sub>", font=dict(size=21, color=AX), standoff=14),
                anchor="x2", **axis_common),
    legend=dict(x=243/W, y=1-167/H, xanchor="left", yanchor="top",
                bgcolor="white", bordercolor=AX, borderwidth=1,
                font=dict(family=FONT, size=19, color="black"), itemsizing="trace",
                tracegroupgap=0),
    legend2=dict(x=692/W, y=1-13/H, xanchor="left", yanchor="top",
                 bgcolor="white", bordercolor=AX, borderwidth=1,
                 font=dict(family=FONT, size=19, color="black"), itemsizing="trace",
                 tracegroupgap=0),
    showlegend=True,
)

fig.write_html("out.html", config={"displayModeBar": False},
               post_script="document.body.style.margin='0';document.body.style.padding='0';")
